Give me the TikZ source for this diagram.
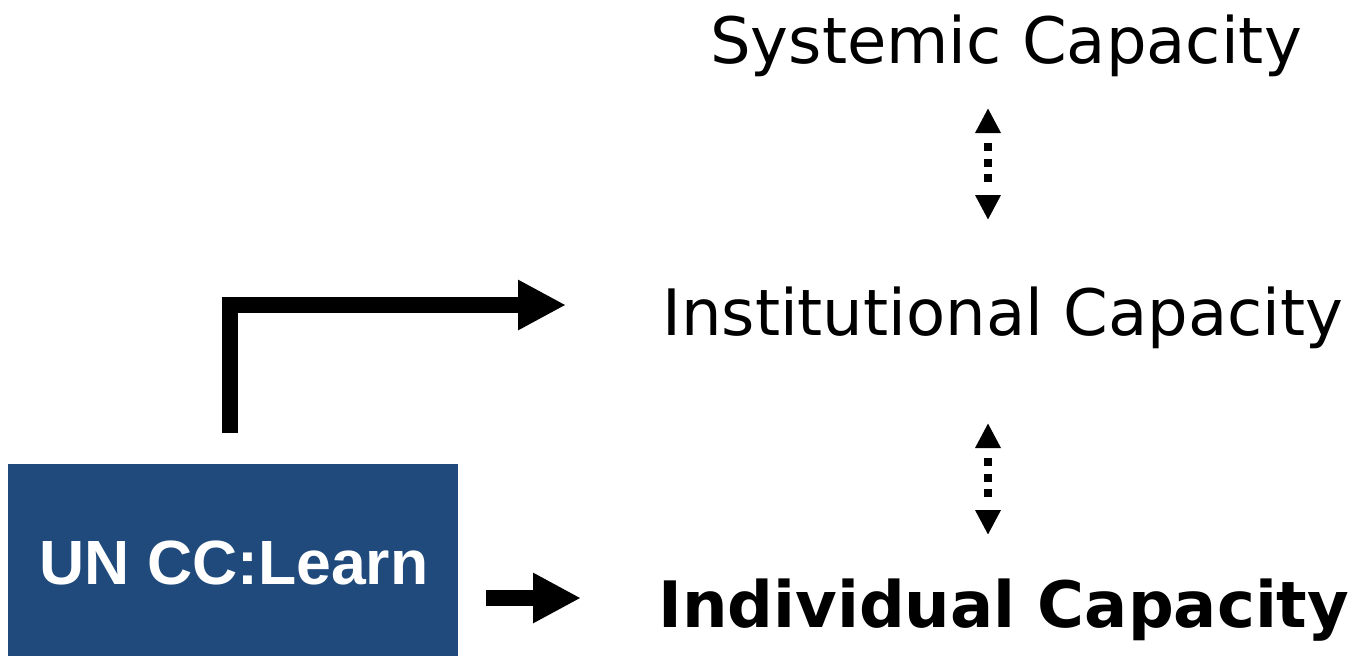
\documentclass[tikz,border=0pt]{standalone}
\usepackage{fontspec}
\newfontfamily\dv{DejaVu Sans}
\newfontfamily\ar{Liberation Sans}
\usetikzlibrary{arrows.meta}
\definecolor{boxblue}{HTML}{204A7C}
\tikzset{
  lbl/.style={anchor=base west, inner sep=0pt, font=\dv\fontsize{64}{70}\selectfont},
  bigarrow/.style={line width=16pt, line join=miter, -{Triangle[width=47pt,length=48pt]}},
  dotarrow/.style={line width=8pt, dash pattern=on 0pt off 12pt on 8pt off 7.5pt on 8pt off 7.5pt on 8pt off 40pt, {Triangle[width=24pt,length=25pt]}-{Triangle[width=24pt,length=25pt]}},
}
\begin{document}
\begin{tikzpicture}[x=1pt,y=-1pt]
\useasboundingbox (0,0) rectangle (1354,656);
\node[lbl] (sys) at (710,63) {Systemic Capacity};
\node[lbl] (inst) at (662,335) {Institutional Capacity};
\node[lbl, font=\dv\bfseries\fontsize{64}{70}\selectfont] (ind) at (658,627) {Individual Capacity};
\node[fill=boxblue, minimum width=450pt, minimum height=192pt, inner sep=0pt, anchor=north west] (box) at (8,464) {};
\node[anchor=base, inner sep=0pt, text=white, font=\ar\bfseries\fontsize{62.5}{68}\selectfont] (un) at (234,584) {UN CC:Learn};
\coordinate (e1) at (230,433);
\coordinate (e2) at (566,305);
\draw[bigarrow] (e1) |- (e2);
\coordinate (s1) at (486,598);
\coordinate (s2) at (581,598);
\draw[bigarrow] (s1) -- (s2);
\coordinate (d1) at (988,108);
\coordinate (d2) at (988,220);
\draw[dotarrow] (d1) -- (d2);
\coordinate (d3) at (988,423);
\coordinate (d4) at (988,535);
\draw[dotarrow] (d3) -- (d4);
\end{tikzpicture}
\end{document}
